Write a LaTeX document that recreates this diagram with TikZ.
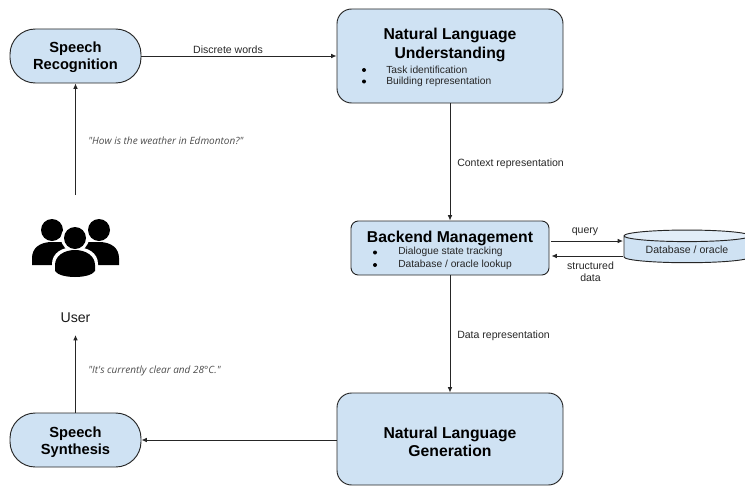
\documentclass[tikz,border=0pt]{standalone}
\usepackage{fontspec}
\setmainfont{Liberation Sans}
\newfontfamily\quotefont{Open Sans}
\usetikzlibrary{arrows.meta,shapes.geometric}
\definecolor{boxblue}{HTML}{CFE2F3}
\definecolor{capblue}{HTML}{E2EDF8}
\tikzset{
  pill/.style={draw=black!85,fill=boxblue,line width=0.7pt,rounded corners=19pt,minimum width=98.25pt,minimum height=40.5pt,inner sep=0pt},
  pillhead/.style={align=center,inner sep=0pt,font=\bfseries\fontsize{11}{13}\selectfont},
  bigbox/.style={draw=black!85,fill=boxblue,line width=0.7pt,rounded corners=11pt,minimum width=169.5pt,minimum height=70.5pt,inner sep=0pt},
  flow/.style={draw=black!85,line width=0.7pt,-{Latex[length=4pt,width=3.5pt]}},
  lbl/.style={font=\fontsize{7.9}{9}\selectfont,text=black!85,align=center,inner sep=0pt},
  said/.style={font=\quotefont\itshape\fontsize{7.5}{9}\selectfont,text=black!70,inner sep=0pt},
  head/.style={font=\bfseries\fontsize{11.8}{13.6}\selectfont,align=center,inner sep=0pt},
  item/.style={font=\fontsize{7.7}{9}\selectfont,text=black!85,anchor=west,inner sep=0pt},
  bulletdot/.style={circle,fill=black,inner sep=0pt,minimum size=3pt}
}
\begin{document}
\begin{tikzpicture}[x=0.75pt,y=-0.75pt]
\useasboundingbox (0,0) rectangle (745,485);

% the boxes
\node[pill] (recog) at (75.5,56) {};
\node[pill] (synth) at (75.5,440) {};
\node[pillhead] (recoghead) at (75.5,57.5) {Speech\\Recognition};
\node[pillhead] (synthhead) at (75.5,442) {Speech\\Synthesis};
\node[bigbox] (nlu) at (450,56) {};
\node[bigbox,minimum width=148.5pt,minimum height=40.5pt,rounded corners=5.5pt] (backend) at (450,248) {};
\node[bigbox,minimum height=69pt] (nlg) at (450,439) {};

\node[head] (nluhead) at (450,45) {Natural Language\\Understanding};
\node[item] (nluone) at (386,69.5) {Task identification};
\node[item] (nlutwo) at (386,81.5) {Building representation};
\node[bulletdot] (nludotone) at (364,70) {};
\node[bulletdot] (nludottwo) at (364,81.5) {};

\node[head] (backhead) at (450,238) {Backend Management};
\node[item] (backone) at (398,252) {Dialogue state tracking};
\node[item] (backtwo) at (398,264.5) {Database / oracle lookup};
\node[bulletdot] (backdotone) at (375,252.5) {};
\node[bulletdot] (backdottwo) at (375,265) {};

\node[head] (nlghead) at (450,441.5) {Natural Language\\Generation};

% the database
\node[cylinder,shape border rotate=90,shape aspect=0.14,draw=black!85,line width=0.7pt,cylinder uses custom fill,
  cylinder body fill=boxblue,cylinder end fill=capblue,minimum width=94.5pt,minimum height=24.5pt,inner sep=0pt,
  font=\fontsize{7.9}{9}\selectfont,text=black!85] (oracle) at (687,249.5) {Database / oracle};

% user icon
\fill (52,230) circle (11);
\fill (99,230) circle (11);
\fill (32,265) -- (32,258) .. controls (32,248) and (40,242) .. (52,242) -- (99,242) .. controls (111,242) and (119,248) .. (119,258) -- (119,265) -- cycle;
\fill[white] (75,238) circle (14);
\fill[white] (52,281) -- (52,264) .. controls (52,253) and (62,247) .. (75,247) .. controls (88,247) and (98,253) .. (98,264) -- (98,281) -- cycle;
\fill (75,238) circle (11);
\fill (55,271) -- (55,265) .. controls (55,256) and (64,250) .. (75,250) .. controls (86,250) and (95,256) .. (95,265) -- (95,271) .. controls (90,279) and (60,279) .. (55,271) -- cycle;
\node[font=\fontsize{10.6}{12}\selectfont,text=black!90,inner sep=0pt] (user) at (75.5,318) {User};
\coordinate (userin) at (75.5,195);
\coordinate (userout) at (75.5,335);

% connectors
\draw[flow] (recog.east) -- (nlu.west |- recog.east);
\node[lbl] (wordslbl) at (228,49.5) {Discrete words};
\draw[flow] (userin) -- (recog.south);
\node[said,anchor=west] (asklbl) at (88,141) {"How is the weather in Edmonton?"};
\draw[flow] (synth.north) -- (userout);
\node[said,anchor=west] (answerlbl) at (88,371) {"It's currently clear and 28°C."};
\draw[flow] (nlg.west |- synth.east) -- (synth.east);
\draw[flow] (nlu.south) -- (backend.north);
\node[lbl,anchor=west] (contextlbl) at (457,163.5) {Context representation};
\draw[flow] (backend.south) -- (nlg.north);
\node[lbl,anchor=west] (datalbl) at (457,335.5) {Data representation};
\coordinate (queryend) at (623,241);
\coordinate (answerstart) at (623,256);
\draw[flow,shorten <=1.5pt] (backend.east |- queryend) -- (queryend);
\draw[flow,shorten >=1.5pt] (answerstart) -- (backend.east |- answerstart);
\node[lbl] (querylbl) at (585,232) {query};
\node[lbl] (structlbl) at (590.5,272) {structured\\data};
\end{tikzpicture}
\end{document}
